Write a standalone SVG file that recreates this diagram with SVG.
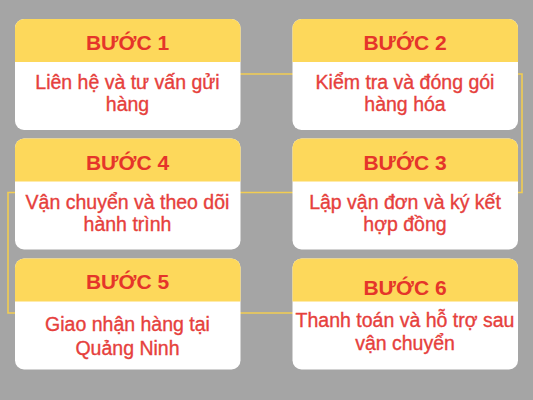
<svg xmlns="http://www.w3.org/2000/svg" xmlns:xlink="http://www.w3.org/1999/xlink" width="533" height="400" viewBox="0 0 533 400">
  <style>
    .title { font-family: "Liberation Sans", Arial, sans-serif; font-weight: bold; font-size: 21px; fill: #e5352a; text-anchor: middle; }
    .body { font-family: "Liberation Sans", Arial, sans-serif; font-size: 19.5px; fill: #e6403c; stroke: #e6403c; stroke-width: 0.35; text-anchor: middle; }
    .conn { fill: none; stroke: #f2cd52; stroke-width: 1.6; }
  </style>
  <defs>
    <g id="card">
      <rect x="0" y="0" width="225.5" height="111" rx="9" ry="9" fill="#ffffff"/>
      <path d="M0,43 V9 A9,9 0 0 1 9,0 H216.5 A9,9 0 0 1 225.5,9 V43 Z" fill="#fdd85b"/>
    </g>
  </defs>
  <rect width="533" height="400" fill="#a5a5a5"/>
  <g id="connectors">
    <path class="conn" d="M128,74 H522 V192.5 H8 V313 H405"/>
  </g>
  <g id="step1">
    <use xlink:href="#card" x="15" y="19"/>
    <text class="title" x="127.5" y="50">BƯỚC 1</text>
    <text class="body" x="127.5" y="89">Liên hệ và tư vấn gửi</text>
    <text class="body" x="127.5" y="110.5">hàng</text>
  </g>
  <g id="step2">
    <use xlink:href="#card" x="292.5" y="19"/>
    <text class="title" x="405" y="50">BƯỚC 2</text>
    <text class="body" x="405" y="89">Kiểm tra và đóng gói</text>
    <text class="body" x="405" y="110.5">hàng hóa</text>
  </g>
  <g id="step3">
    <use xlink:href="#card" x="292.5" y="138.5"/>
    <text class="title" x="405" y="169.5">BƯỚC 3</text>
    <text class="body" x="405" y="209">Lập vận đơn và ký kết</text>
    <text class="body" x="405" y="230.5">hợp đồng</text>
  </g>
  <g id="step4">
    <use xlink:href="#card" x="15" y="138.5"/>
    <text class="title" x="127.5" y="169.5">BƯỚC 4</text>
    <text class="body" x="127.5" y="209">Vận chuyển và theo dõi</text>
    <text class="body" x="127.5" y="230.5">hành trình</text>
  </g>
  <g id="step5">
    <use xlink:href="#card" x="15" y="258.5"/>
    <text class="title" x="127.5" y="289">BƯỚC 5</text>
    <text class="body" x="127.5" y="331">Giao nhận hàng tại</text>
    <text class="body" x="127.5" y="354.5">Quảng Ninh</text>
  </g>
  <g id="step6">
    <use xlink:href="#card" x="292.5" y="258.5"/>
    <text class="title" x="405" y="295">BƯỚC 6</text>
    <text class="body" x="405" y="327">Thanh toán và hỗ trợ sau</text>
    <text class="body" x="405" y="350">vận chuyển</text>
  </g>
</svg>
